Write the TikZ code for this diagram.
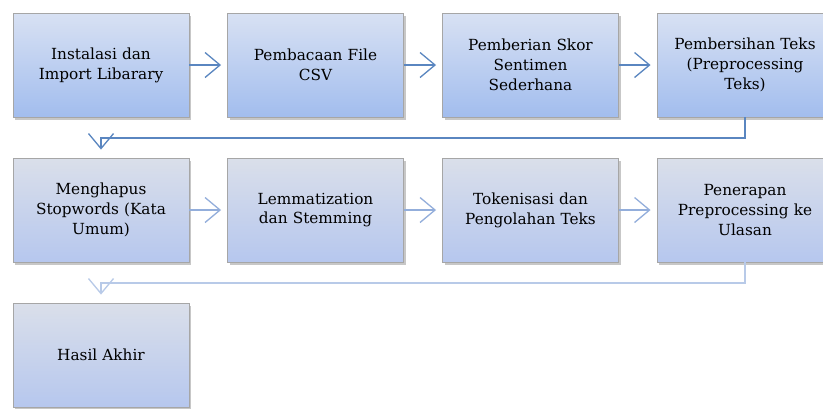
\documentclass[tikz,border=0pt]{standalone}
\usepackage{fontspec}
\setmainfont{DejaVu Serif}
\usetikzlibrary{arrows.meta,shadows,calc}
\definecolor{arrA}{HTML}{5A86C0}
\definecolor{arrB}{HTML}{93AEDB}
\definecolor{arrC}{HTML}{B8CAE8}
\definecolor{topA}{HTML}{D8E1F3}
\definecolor{botA}{HTML}{A2BDEE}
\definecolor{topB}{HTML}{DADFEA}
\definecolor{botB}{HTML}{B6C7EE}
\tikzset{
  box/.style={rectangle, minimum width=176pt, minimum height=104pt, draw=black!35, line width=0.9pt,
    align=center, text width=168pt, font=\fontsize{15.3}{19.8}\selectfont,
    drop shadow={shadow xshift=2pt, shadow yshift=-3pt, opacity=0.4, fill=black!55}},
  boxA/.style={box, top color=topA, bottom color=botA},
  boxB/.style={box, top color=topB, bottom color=botB},
  conn/.style={line width=1.3pt, -{Straight Barb[length=15pt,width=25pt,line width=1.3pt]}, shorten >=6pt},
}
\begin{document}
\begin{tikzpicture}[x=1pt,y=-1pt]
\useasboundingbox (0,0) rectangle (823,408);
\fill[white] (0,0) rectangle (823,408);
\node[boxA] (a1) at (101,65) {Instalasi dan\\Import Libarary};
\node[boxA] (a2) at (315.5,65) {Pembacaan File\\CSV};
\node[boxA] (a3) at (530.5,65) {Pemberian Skor\\Sentimen\\Sederhana};
\node[boxA] (a4) at (745,65) {Pembersihan Teks\\(Preprocessing\\Teks)};
\node[boxB] (b1) at (101,210) {Menghapus\\Stopwords (Kata\\Umum)};
\node[boxB] (b2) at (315.5,210) {Lemmatization\\dan Stemming};
\node[boxB] (b3) at (530.5,210) {Tokenisasi dan\\Pengolahan Teks};
\node[boxB] (b4) at (745,210) {Penerapan\\Preprocessing ke\\Ulasan};
\node[boxB] (c1) at (101,355) {Hasil Akhir};
\coordinate (k1) at (745,138);
\coordinate (k2) at (745,283);
\draw[conn, arrA] (a1) -- (a2);
\draw[conn, arrA] (a2) -- (a3);
\draw[conn, arrA] (a3) -- (a4);
\draw[conn, arrA, shorten >=8pt] (a4.south) -- (k1) -| (b1.north);
\draw[conn, arrB] (b1) -- (b2);
\draw[conn, arrB] (b2) -- (b3);
\draw[conn, arrB] (b3) -- (b4);
\draw[conn, arrC, shorten >=8pt] (b4.south) -- (k2) -| (c1.north);
\end{tikzpicture}
\end{document}
